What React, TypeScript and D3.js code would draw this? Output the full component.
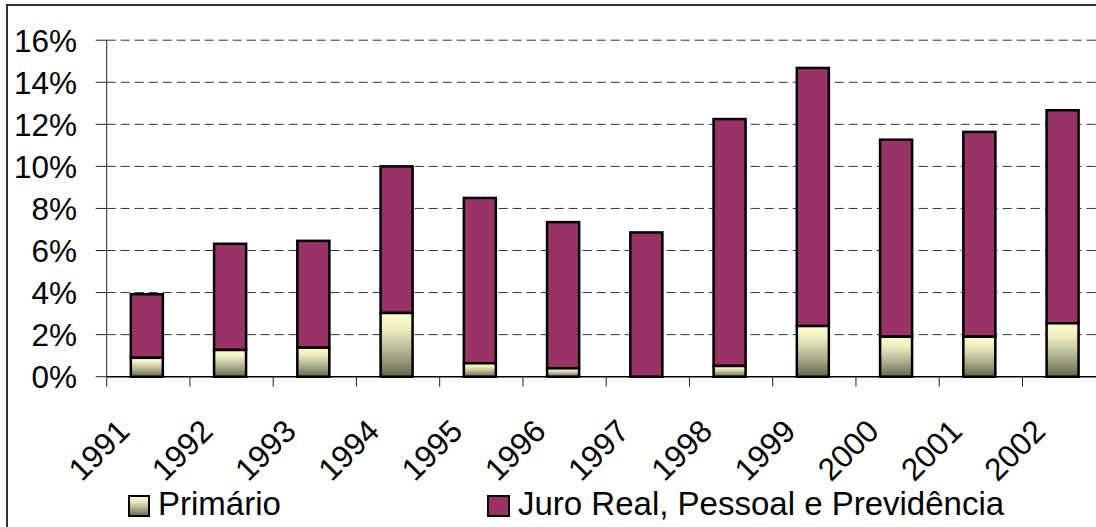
import React from 'react';
import * as d3 from 'd3';

const categories = ['1991', '1992', '1993', '1994', '1995', '1996', '1997', '1998', '1999', '2000', '2001', '2002'];
const primario = [0.9, 1.27, 1.38, 3.03, 0.64, 0.4, 0.0, 0.51, 2.41, 1.9, 1.9, 2.54];
const juro = [3.02, 5.05, 5.08, 6.97, 7.86, 6.95, 6.86, 11.74, 12.27, 9.37, 9.74, 10.13];
const yTicks = [0, 2, 4, 6, 8, 10, 12, 14, 16];
const seriesNames = ['Primário', 'Juro Real, Pessoal e Previdência'];

const W = 1096;
const H = 527;
const FONT = "'Liberation Sans', Arial, sans-serif";

export default function App() {
  const x0 = 106.7;
  const x1 = x0 + 83.25 * 12;
  const yTop = 40.2;
  const yBase = 376.7;
  const xb = d3.scaleBand<string>().domain(categories).range([x0, x1]);
  const y = d3.scaleLinear().domain([0, 16]).range([yBase, yTop]);
  const bw = 32;
  const juroColor = '#993366';

  return (
    <svg width={W} height={H} style={{ position: 'absolute', left: 0, top: 0, background: '#fff' }}>
      <defs>
        <linearGradient id="gprim" x1="0" y1="0" x2="0" y2="1">
          <stop offset="0%" stopColor="#FFFFCC" />
          <stop offset="25%" stopColor="#EDEDC0" />
          <stop offset="60%" stopColor="#B3B393" />
          <stop offset="100%" stopColor="#66664D" />
        </linearGradient>
      </defs>
      <rect x={7} y={5} width={W + 10} height={H + 10} fill="#fff" stroke="#333" strokeWidth={2} />
      {yTicks.filter(t => t > 0).map(t => (
        <line key={'g' + t} x1={x0} x2={W} y1={y(t)} y2={y(t)} stroke="#333" strokeWidth={1} strokeDasharray="9,5" />
      ))}
      <line x1={x0} x2={x0} y1={yTop} y2={yBase} stroke="#222" strokeWidth={1} />
      {yTicks.map(t => (
        <g key={'t' + t}>
          <line x1={x0 - 11} x2={x0} y1={y(t)} y2={y(t)} stroke="#222" strokeWidth={1} />
          <text x={77} y={y(t)} dy="0.36em" textAnchor="end" fontFamily={FONT} fontSize={31.5} fill="#000">
            {t + '%'}
          </text>
        </g>
      ))}
      {categories.map((c, i) => {
        const cx = (xb(c) as number) + xb.bandwidth() / 2 - 1.5;
        const p = primario[i];
        const j = juro[i];
        return (
          <g key={c}>
            <rect x={cx - bw / 2 + 1.5} y={y(p + j) + 1.5} width={bw} height={y(p) - y(p + j)} fill="#bbb" opacity={0.6} />
            <rect x={cx - bw / 2} y={y(p + j)} width={bw} height={y(p) - y(p + j)} fill={juroColor} stroke="#000" strokeWidth={2.5} />
            {p > 0 && (
              <rect x={cx - bw / 2} y={y(p)} width={bw} height={y(0) - y(p)} fill="url(#gprim)" stroke="#000" strokeWidth={2.5} />
            )}
          </g>
        );
      })}
      <line x1={x0} x2={W} y1={yBase} y2={yBase} stroke="#000" strokeWidth={1.5} />
      {d3.range(categories.length + 1).map(k => {
        const xx = x0 + k * xb.step();
        return <line key={'xt' + k} x1={xx} x2={xx} y1={yBase} y2={yBase + 10} stroke="#222" strokeWidth={1} />;
      })}
      {categories.map(c => {
        const cx = (xb(c) as number) + xb.bandwidth() / 2;
        return (
          <text key={'xl' + c} transform={`translate(${cx - 17},${433}) rotate(-45)`} textAnchor="end" fontFamily={FONT} fontSize={31.5} fill="#000">
            {c}
          </text>
        );
      })}
      <rect x={129} y={496} width={20} height={20} fill="url(#gprim)" stroke="#000" strokeWidth={2} />
      <text x={158} y={515} fontFamily={FONT} fontSize={33} fill="#000">{seriesNames[0]}</text>
      <rect x={488} y={496} width={21} height={20} fill={juroColor} stroke="#000" strokeWidth={2} />
      <text x={518} y={515} fontFamily={FONT} fontSize={33} fill="#000">{seriesNames[1]}</text>
    </svg>
  );
}
